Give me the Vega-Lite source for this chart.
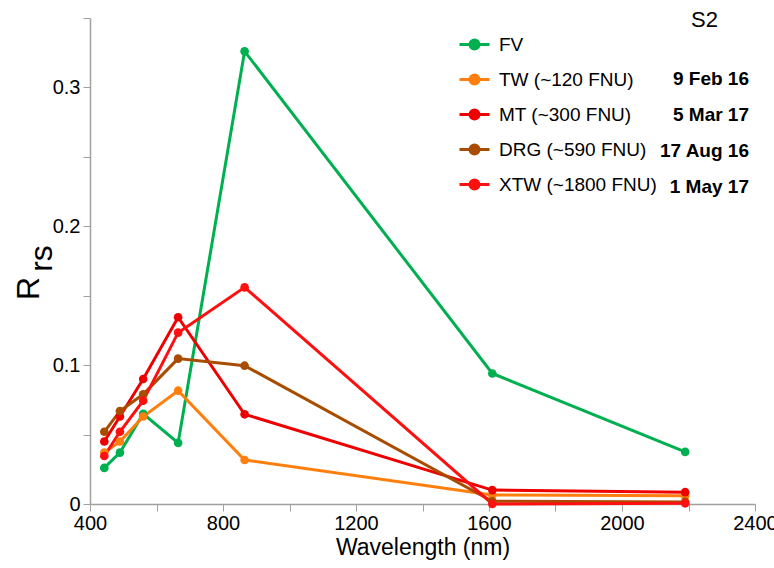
{
  "$schema": "https://vega.github.io/schema/vega-lite/v6.json",
  "width": 665,
  "height": 486,
  "autosize": "none",
  "padding": {"left": 90, "top": 18, "right": 19, "bottom": 64},
  "background": "white",
  "config": {"view": {"stroke": null}, "font": "Liberation Sans"},
  "title": {"text": "S2", "anchor": "end", "frame": "group", "orient": "top", "offset": 0, "dx": -37, "dy": 24, "fontSize": 22, "fontWeight": "normal", "color": "black"},
  "data": {"values": [
    {"series": "FV", "date": " ", "wl": 443, "r": 0.026},
    {"series": "FV", "date": " ", "wl": 490, "r": 0.037},
    {"series": "FV", "date": " ", "wl": 560, "r": 0.065},
    {"series": "FV", "date": " ", "wl": 665, "r": 0.044},
    {"series": "FV", "date": " ", "wl": 865, "r": 0.326},
    {"series": "FV", "date": " ", "wl": 1610, "r": 0.094},
    {"series": "FV", "date": " ", "wl": 2190, "r": 0.0375},
    {"series": "TW (~120 FNU)", "date": "9 Feb 16", "wl": 443, "r": 0.037},
    {"series": "TW (~120 FNU)", "date": "9 Feb 16", "wl": 490, "r": 0.045},
    {"series": "TW (~120 FNU)", "date": "9 Feb 16", "wl": 560, "r": 0.063},
    {"series": "TW (~120 FNU)", "date": "9 Feb 16", "wl": 665, "r": 0.0816},
    {"series": "TW (~120 FNU)", "date": "9 Feb 16", "wl": 865, "r": 0.0317},
    {"series": "TW (~120 FNU)", "date": "9 Feb 16", "wl": 1610, "r": 0.0065},
    {"series": "TW (~120 FNU)", "date": "9 Feb 16", "wl": 2190, "r": 0.006},
    {"series": "MT (~300 FNU)", "date": "5 Mar 17", "wl": 443, "r": 0.045},
    {"series": "MT (~300 FNU)", "date": "5 Mar 17", "wl": 490, "r": 0.063},
    {"series": "MT (~300 FNU)", "date": "5 Mar 17", "wl": 560, "r": 0.09},
    {"series": "MT (~300 FNU)", "date": "5 Mar 17", "wl": 665, "r": 0.1345},
    {"series": "MT (~300 FNU)", "date": "5 Mar 17", "wl": 865, "r": 0.0646},
    {"series": "MT (~300 FNU)", "date": "5 Mar 17", "wl": 1610, "r": 0.01},
    {"series": "MT (~300 FNU)", "date": "5 Mar 17", "wl": 2190, "r": 0.0085},
    {"series": "DRG (~590 FNU)", "date": "17 Aug 16", "wl": 443, "r": 0.052},
    {"series": "DRG (~590 FNU)", "date": "17 Aug 16", "wl": 490, "r": 0.067},
    {"series": "DRG (~590 FNU)", "date": "17 Aug 16", "wl": 560, "r": 0.079},
    {"series": "DRG (~590 FNU)", "date": "17 Aug 16", "wl": 665, "r": 0.1047},
    {"series": "DRG (~590 FNU)", "date": "17 Aug 16", "wl": 865, "r": 0.0996},
    {"series": "DRG (~590 FNU)", "date": "17 Aug 16", "wl": 1610, "r": 0.002},
    {"series": "DRG (~590 FNU)", "date": "17 Aug 16", "wl": 2190, "r": 0.0015},
    {"series": "XTW (~1800 FNU)", "date": "1 May 17", "wl": 443, "r": 0.0346},
    {"series": "XTW (~1800 FNU)", "date": "1 May 17", "wl": 490, "r": 0.052},
    {"series": "XTW (~1800 FNU)", "date": "1 May 17", "wl": 560, "r": 0.0744},
    {"series": "XTW (~1800 FNU)", "date": "1 May 17", "wl": 665, "r": 0.1234},
    {"series": "XTW (~1800 FNU)", "date": "1 May 17", "wl": 865, "r": 0.156},
    {"series": "XTW (~1800 FNU)", "date": "1 May 17", "wl": 1610, "r": 0.0},
    {"series": "XTW (~1800 FNU)", "date": "1 May 17", "wl": 2190, "r": 0.0005}
  ]},
  "encoding": {
    "x": {
      "field": "wl", "type": "quantitative",
      "scale": {"domain": [400, 2400], "nice": false, "zero": false},
      "axis": {
        "values": [400, 600, 800, 1000, 1200, 1400, 1600, 1800, 2000, 2200, 2400],
        "format": "d",
        "labelExpr": "datum.value % 400 == 0 ? datum.label : ''",
        "labelFlush": false, "labelOverlap": false, "labelBound": false,
        "grid": false,
        "domainColor": "#a0a0a0", "domainWidth": 1.5,
        "tickColor": "#a0a0a0", "tickSize": 7, "tickWidth": 1,
        "labelFontSize": 20, "labelColor": "black", "labelPadding": 2,
        "title": "Wavelength (nm)", "titleFontSize": 23, "titleFontWeight": "normal",
        "titleColor": "black", "titlePadding": 3
      }
    },
    "color": {
      "field": "series", "type": "nominal",
      "scale": {
        "domain": ["FV", "TW (~120 FNU)", "MT (~300 FNU)", "DRG (~590 FNU)", "XTW (~1800 FNU)"],
        "range": ["#00b050", "#ff7f0e", "#ee0000", "#a84c00", "#ff1010"]
      },
      "legend": {
        "orient": "none", "legendX": 368, "legendY": 10,
        "title": null,
        "symbolType": "M-1,0L1,0M0.3,0A0.3,0.3,0,1,1,-0.3,0A0.3,0.3,0,1,1,0.3,0Z",
        "symbolSize": 900, "symbolStrokeWidth": 3,
        "labelFontSize": 19, "labelColor": "black", "labelOffset": 8,
        "labelLimit": 300,
        "rowPadding": 8,
        "encode": {"symbols": {"update": {"fill": {"scale": "color", "field": "value"}, "stroke": {"scale": "color", "field": "value"}}}}
      }
    }
  },
  "layer": [
    {
      "mark": {"type": "line", "strokeWidth": 3},
      "encoding": {
        "y": {
          "field": "r", "type": "quantitative",
          "scale": {"domain": [0, 0.35], "nice": false},
          "axis": {
            "values": [0, 0.05, 0.1, 0.15, 0.2, 0.25, 0.3, 0.35],
            "format": "~g",
            "labelExpr": "abs(round(datum.value * 20)) % 2 == 0 && datum.value < 0.34 ? datum.label : ''",
            "labelOverlap": false, "labelBound": false,
            "grid": false,
            "domainColor": "#a0a0a0", "domainWidth": 1.5,
            "tickColor": "#a0a0a0", "tickSize": 7, "tickWidth": 1,
            "labelFontSize": 20, "labelColor": "black", "labelPadding": 3,
            "title": "R", "titleFontSize": 32, "titleFontWeight": "normal", "titleColor": "black",
            "titleAngle": 270, "titleX": -52, "titleY": 270, "titleAlign": "center", "titleBaseline": "alphabetic"
          }
        }
      }
    },
    {
      "mark": {"type": "point", "filled": true, "size": 75, "opacity": 1},
      "encoding": {
        "y": {
          "field": "r", "type": "quantitative",
          "scale": {"domain": [0, 0.35], "nice": false},
          "axis": {
            "orient": "right", "domain": false, "ticks": false, "labels": false, "grid": false,
            "title": "rs", "titleFontSize": 32, "titleFontWeight": "normal", "titleColor": "black",
            "titleAngle": 270, "titleX": -704, "titleY": 240, "titleAlign": "center", "titleBaseline": "alphabetic"
          }
        },
        "shape": {
          "field": "date", "type": "nominal",
          "scale": {"domain": [" ", "9 Feb 16", "5 Mar 17", "17 Aug 16", "1 May 17"], "range": ["circle", "circle", "circle", "circle", "circle"]},
          "legend": {
            "orient": "none", "legendX": 640, "legendY": 15,
            "title": null,
            "symbolOpacity": 0, "symbolSize": 1, "symbolStrokeWidth": 0,
            "labelFontSize": 19, "labelFontWeight": "bold", "labelColor": "black",
            "labelAlign": "right", "labelOffset": 0, "labelLimit": 300,
            "rowPadding": 16
          }
        }
      }
    }
  ],
  "resolve": {"scale": {"y": "independent"}}
}
